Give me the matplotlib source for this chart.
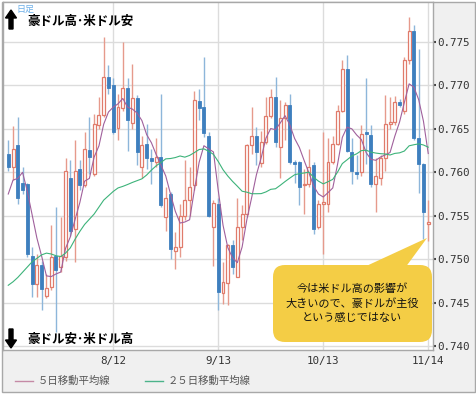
import numpy as np
import pandas as pd
import matplotlib
matplotlib.use("Agg")
import matplotlib.pyplot as plt
from matplotlib.patches import Rectangle, FancyBboxPatch, Polygon, FancyArrow
from matplotlib.lines import Line2D

plt.rcParams['font.family'] = ['Noto Sans CJK JP', 'DejaVu Sans']

# AUD/USD daily, 2016-07-13 .. 2016-11-14 (business days)
dates = pd.bdate_range('2016-07-13', '2016-11-14')

opens = [0.7621, 0.7606, 0.7631, 0.7588, 0.7587, 0.7504, 0.7472, 0.7493, 0.7458, 0.7468,
         0.7504, 0.7491, 0.7502, 0.7594, 0.7535, 0.7604, 0.7585, 0.7626, 0.7598, 0.7655,
         0.7666, 0.7710, 0.7700, 0.7651, 0.7674, 0.7697, 0.7657, 0.7685, 0.7606, 0.7633,
         0.7616, 0.7612, 0.7618, 0.7548, 0.7575, 0.7510, 0.7514, 0.7550, 0.7568, 0.7585,
         0.7682, 0.7675, 0.7642, 0.7537, 0.7564, 0.7461, 0.7473, 0.7516, 0.7480, 0.7537,
         0.7552, 0.7632, 0.7642, 0.7611, 0.7635, 0.7665, 0.7687, 0.7629, 0.7662, 0.7678,
         0.7612, 0.7612, 0.7585, 0.7587, 0.7608, 0.7537, 0.7564, 0.7564, 0.7612, 0.7633,
         0.7671, 0.7719, 0.7623, 0.7600, 0.7600, 0.7646, 0.7643, 0.7587, 0.7593, 0.7617,
         0.7656, 0.7658, 0.7681, 0.7671, 0.7729, 0.7763, 0.7639, 0.7609, 0.7541]
highs = [0.7637, 0.7653, 0.7664, 0.7606, 0.7588, 0.7514, 0.7506, 0.7498, 0.7483, 0.7539,
         0.7560, 0.7548, 0.7617, 0.7614, 0.7637, 0.7614, 0.7646, 0.7664, 0.7667, 0.7687,
         0.7756, 0.7723, 0.7708, 0.7690, 0.7750, 0.7708, 0.7725, 0.7689, 0.7642, 0.7656,
         0.7627, 0.7639, 0.7690, 0.7583, 0.7577, 0.7531, 0.7564, 0.7614, 0.7606, 0.7694,
         0.7696, 0.7733, 0.7646, 0.7568, 0.7570, 0.7497, 0.7518, 0.7522, 0.7571, 0.7562,
         0.7633, 0.7675, 0.7652, 0.7648, 0.7687, 0.7696, 0.7710, 0.7683, 0.7681, 0.7690,
         0.7614, 0.7613, 0.7604, 0.7627, 0.7612, 0.7568, 0.7646, 0.7639, 0.7642, 0.7677,
         0.7729, 0.7735, 0.7640, 0.7620, 0.7654, 0.7708, 0.7654, 0.7617, 0.7620, 0.7689,
         0.7687, 0.7688, 0.7684, 0.7733, 0.7779, 0.7770, 0.7742, 0.7611, 0.7568]
lows = [0.7602, 0.7591, 0.7564, 0.7575, 0.7502, 0.7456, 0.7456, 0.7441, 0.7455, 0.7464,
        0.7416, 0.7485, 0.7498, 0.7527, 0.7497, 0.7580, 0.7583, 0.7598, 0.7596, 0.7650,
        0.7664, 0.7690, 0.7644, 0.7637, 0.7671, 0.7625, 0.7650, 0.7608, 0.7593, 0.7604,
        0.7587, 0.7606, 0.7560, 0.7533, 0.7500, 0.7489, 0.7502, 0.7545, 0.7550, 0.7580,
        0.7660, 0.7641, 0.7548, 0.7492, 0.7441, 0.7449, 0.7447, 0.7483, 0.7480, 0.7522,
        0.7548, 0.7621, 0.7608, 0.7606, 0.7633, 0.7663, 0.7629, 0.7594, 0.7637, 0.7610,
        0.7588, 0.7562, 0.7552, 0.7583, 0.7529, 0.7535, 0.7506, 0.7554, 0.7610, 0.7631,
        0.7669, 0.7623, 0.7587, 0.7592, 0.7596, 0.7610, 0.7583, 0.7554, 0.7585, 0.7602,
        0.7650, 0.7654, 0.7675, 0.7667, 0.7725, 0.7637, 0.7576, 0.7523, 0.7521]
closes = [0.7606, 0.7627, 0.7571, 0.7580, 0.7506, 0.7472, 0.7493, 0.7466, 0.7467, 0.7502,
          0.7487, 0.7504, 0.7602, 0.7533, 0.7602, 0.7585, 0.7627, 0.7618, 0.7656, 0.7666,
          0.7710, 0.7697, 0.7646, 0.7675, 0.7697, 0.7660, 0.7686, 0.7623, 0.7632, 0.7616,
          0.7613, 0.7618, 0.7562, 0.7570, 0.7512, 0.7514, 0.7550, 0.7568, 0.7583, 0.7683,
          0.7674, 0.7645, 0.7550, 0.7565, 0.7462, 0.7474, 0.7516, 0.7491, 0.7537, 0.7552,
          0.7632, 0.7642, 0.7623, 0.7635, 0.7665, 0.7687, 0.7635, 0.7662, 0.7677, 0.7612,
          0.7609, 0.7583, 0.7587, 0.7606, 0.7535, 0.7564, 0.7566, 0.7612, 0.7633, 0.7671,
          0.7719, 0.7625, 0.7602, 0.7598, 0.7644, 0.7644, 0.7587, 0.7596, 0.7617, 0.7656,
          0.7658, 0.7681, 0.7678, 0.7729, 0.7763, 0.7639, 0.7609, 0.7554, 0.7543]

# moving averages at the left edge (need data before the window)
ma5_head = [0.7575, 0.7591, 0.7593, 0.7600]
ma25_head = [0.7470, 0.7474, 0.7479, 0.7485, 0.7491, 0.7497, 0.7501, 0.7505, 0.7507, 0.7506,
             0.7504, 0.7503, 0.7507, 0.7513, 0.7523, 0.7532, 0.7540, 0.7546, 0.7552, 0.7560,
             0.7568, 0.7573, 0.7578, 0.7582]

tick_dates = ['2016-08-12', '2016-09-13', '2016-10-13', '2016-11-14']
yticks = [0.740, 0.745, 0.750, 0.755, 0.760, 0.765, 0.770, 0.775]

df = pd.DataFrame({'o': opens, 'h': highs, 'l': lows, 'c': closes}, index=dates)
ma5 = df['c'].rolling(5).mean().values
ma5[:len(ma5_head)] = ma5_head
ma25 = df['c'].rolling(25).mean().values
ma25[:len(ma25_head)] = ma25_head

BULL = '#e07b6b'
BULL_WICK = '#e69a8c'
BEAR = '#3e7fbe'
BEAR_WICK = '#8db6da'

W, H = 477, 396
fig = plt.figure(figsize=(W / 100, H / 100), dpi=100)
fig.patch.set_facecolor('white')

# background frame
bg = fig.add_axes([0, 0, 1, 1], zorder=-2)
bg.set_xlim(0, W); bg.set_ylim(H, 0); bg.axis('off')
bg.add_patch(Rectangle((2, 2), 473, 390, facecolor='#f0f0f0', edgecolor='#a8a8a8', lw=1))

ax = fig.add_axes([3 / W, 46 / H, 430 / W, 348 / H], zorder=1)
ax.set_facecolor('white')
x = np.arange(len(df))
up = df['c'].values >= df['o'].values

ax.vlines(x[up], df['l'].values[up], df['h'].values[up], color=BULL_WICK, lw=1, zorder=2)
ax.vlines(x[~up], df['l'].values[~up], df['h'].values[~up], color=BEAR_WICK, lw=1, zorder=2)
body = np.maximum(np.abs(df['c'].values - df['o'].values), 0.00005)
bottom = np.minimum(df['c'].values, df['o'].values)
ax.bar(x[up], body[up], bottom=bottom[up], width=0.62, facecolor='white',
       edgecolor=BULL, linewidth=0.9, zorder=3)
ax.bar(x[~up], body[~up], bottom=bottom[~up], width=0.62, facecolor=BEAR,
       edgecolor=BEAR, linewidth=0.6, zorder=3)

ax.plot(x, ma5, color='#a0609c', lw=0.8, zorder=4)
ax.plot(x, ma25, color='#3db37a', lw=0.8, zorder=4)

ax.set_xlim(-1.1, 89.0)
ax.set_ylim(0.73955, 0.7796)
tpos = [df.index.get_loc(pd.Timestamp(d)) for d in tick_dates]
ax.set_xticks(tpos)
ax.set_xticklabels([f"{pd.Timestamp(d).month}/{pd.Timestamp(d).day}" for d in tick_dates])
ax.set_yticks(yticks)
ax.set_yticklabels([f"{v:.3f}" for v in yticks])
ax.yaxis.tick_right()
ax.tick_params(axis='y', direction='out', length=2, width=1.5, color='#444', pad=1,
               labelsize=7.8, labelcolor='#333')
ax.tick_params(axis='x', length=0, pad=4, labelsize=7.8, labelcolor='#333')
for lab in ax.get_xticklabels() + ax.get_yticklabels():
    lab.set_family('DejaVu Sans Mono')
ax.grid(True, color='#dcdcdc', lw=1)
ax.set_axisbelow(True)
for s in ax.spines.values():
    s.set_color('#a8a8a8')
    s.set_linewidth(1)

# overlay in pixel coordinates
ov = fig.add_axes([0, 0, 1, 1], zorder=5)
ov.set_xlim(0, W); ov.set_ylim(H, 0); ov.axis('off'); ov.patch.set_alpha(0)

ov.text(16, 9, '日足', fontsize=6.5, color='#6aaee8', va='center', ha='left')
ov.add_patch(FancyArrow(11, 29, 0, -11, width=4, head_width=11, head_length=8,
                        length_includes_head=False, color='black'))
ov.text(27, 21, '豪ドル高･米ドル安', fontsize=9, fontweight='bold', va='center', ha='left')
ov.add_patch(FancyArrow(11, 329, 0, 11, width=4, head_width=11, head_length=8,
                        length_includes_head=False, color='black'))
ov.text(27, 339, '豪ドル安･米ドル高', fontsize=9, fontweight='bold', va='center', ha='left')

yellow = '#f4cd45'
ov.add_patch(Polygon([(362, 268), (427, 238), (405, 268)], closed=True, facecolor=yellow,
                     edgecolor='none'))
ov.add_patch(FancyBboxPatch((273, 265), 159, 77, boxstyle='round,pad=0,rounding_size=12',
                            facecolor=yellow, edgecolor='none'))
ov.text(352, 303, '今は米ドル高の影響が\n大きいので、豪ドルが主役\nという感じではない',
        fontsize=8, ha='center', va='center', linespacing=1.45, color='#111')

# legend
ly = 381
ov.add_line(Line2D([15, 33], [ly, ly], color='#c58aa6', lw=1))
ov.text(38, ly, '５日移動平均線', fontsize=7.5, color='#555', va='center', ha='left')
ov.add_line(Line2D([145, 163], [ly, ly], color='#4cb38a', lw=1))
ov.text(168, ly, '２５日移動平均線', fontsize=7.5, color='#555', va='center', ha='left')

fig.savefig('out.png', dpi=100)
